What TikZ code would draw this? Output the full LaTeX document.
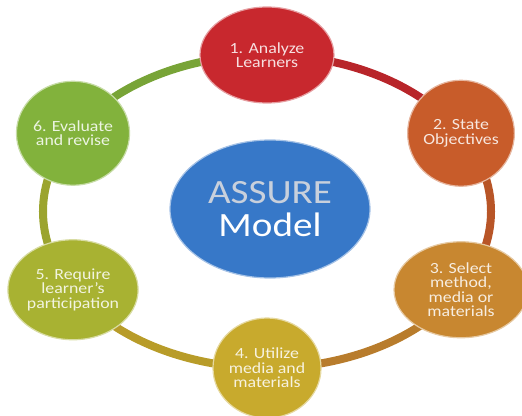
\documentclass[tikz,border=0pt]{standalone}
\usepackage{fontspec}
\usetikzlibrary{shapes.geometric,backgrounds}

\newfontfamily\stagefont[FakeStretch=1.15]{Carlito}

\definecolor{analyzered}{RGB}{200,40,46}
\definecolor{stateorange}{RGB}{200,92,42}
\definecolor{selectbrown}{RGB}{200,135,48}
\definecolor{utilizegold}{RGB}{200,170,45}
\definecolor{requireolive}{RGB}{168,178,50}
\definecolor{evalgreen}{RGB}{130,178,60}
\definecolor{modelblue}{RGB}{55,120,200}
\definecolor{assuregray}{RGB}{200,208,220}

\begin{document}
\begin{tikzpicture}[x=1pt,y=-1pt,
	stage/.style={ellipse, draw=white!55!#1, line width=1.2pt, fill=#1, text=white!85!#1,
		inner sep=0pt, align=center, font=\stagefont\fontsize{15.5}{14.5}\selectfont},
	hub/.style={stage=modelblue, text=white, font=\stagefont\fontsize{34}{33}\selectfont},
	ring/.style={line width=8pt, draw=#1!92!black}]
	\useasboundingbox (0,0) rectangle (522,415);

	\node[hub, minimum width=200pt, minimum height=138pt] (M) at (270,209) {{\color{assuregray}ASSURE}\\Model};

	\node[stage=analyzered, minimum width=134pt, minimum height=96pt] (A) at (267,55) {1. Analyze\\Learners};
	\node[stage=stateorange, minimum width=104pt, minimum height=106pt] (B) at (461,133.25) {2. State\\Objectives};
	\node[stage=selectbrown, minimum width=134pt, minimum height=96pt] (C) at (461,289.75) {3. Select\\method,\\media or\\materials};
	\node[stage=utilizegold, minimum width=104pt, minimum height=100pt] (D) at (267,368) {4. Utilize\\media and\\materials};
	\node[stage=requireolive, minimum width=130pt, minimum height=100pt] (E) at (73,289.75) {5. Require\\learner’s\\participation};
	\node[stage=evalgreen, minimum width=106pt, minimum height=104pt] (F) at (73,133.25) {6. Evaluate\\and revise};

	\begin{scope}[on background layer]
		\draw[ring=analyzered] (A.center) arc[start angle=-90, end angle=-30, x radius=224, y radius=156.5];
		\draw[ring=stateorange] (B.center) arc[start angle=-30, end angle=30, x radius=224, y radius=156.5];
		\draw[ring=selectbrown] (C.center) arc[start angle=30, end angle=90, x radius=224, y radius=156.5];
		\draw[ring=utilizegold] (D.center) arc[start angle=90, end angle=150, x radius=224, y radius=156.5];
		\draw[ring=requireolive] (E.center) arc[start angle=150, end angle=210, x radius=224, y radius=156.5];
		\draw[ring=evalgreen] (F.center) arc[start angle=210, end angle=270, x radius=224, y radius=156.5];
	\end{scope}
\end{tikzpicture}
\end{document}
